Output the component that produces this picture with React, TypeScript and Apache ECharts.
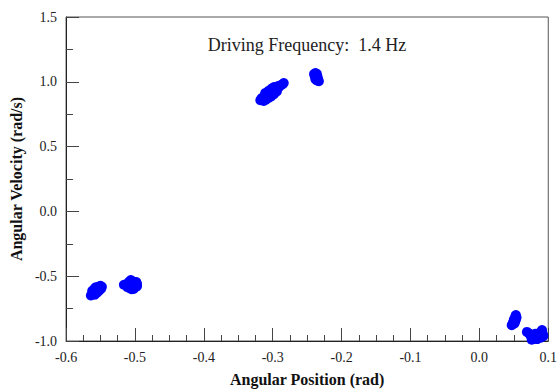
import React, { useEffect, useRef } from "react";
import * as echarts from "echarts";

const xTickValues = [-0.6, -0.5, -0.4, -0.3, -0.2, -0.1, 0.0, 0.1];
const yTickValues = [-1.0, -0.5, 0.0, 0.5, 1.0, 1.5];

const clusterA = [
  [-0.564, -0.648], [-0.562, -0.635], [-0.561, -0.628], [-0.559, -0.62], [-0.558, -0.612],
  [-0.557, -0.605], [-0.556, -0.598], [-0.554, -0.59], [-0.553, -0.582], [-0.551, -0.578],
  [-0.55, -0.574], [-0.556, -0.615], [-0.553, -0.6], [-0.56, -0.64], [-0.552, -0.588],
  [-0.558, -0.642], [-0.555, -0.627], [-0.552, -0.612], [-0.549, -0.596], [-0.548, -0.582],
  [-0.562, -0.612], [-0.559, -0.598], [-0.557, -0.585],
];
const clusterB = [
  [-0.516, -0.566], [-0.513, -0.568], [-0.51, -0.575], [-0.508, -0.59], [-0.505, -0.6],
  [-0.502, -0.598], [-0.5, -0.585], [-0.499, -0.57], [-0.5, -0.555], [-0.503, -0.54],
  [-0.506, -0.53], [-0.509, -0.545], [-0.507, -0.56], [-0.504, -0.575], [-0.501, -0.562],
  [-0.511, -0.585], [-0.503, -0.588], [-0.497, -0.56], [-0.497, -0.578], [-0.498, -0.545],
];
const clusterC = [
  [-0.318, 0.858], [-0.316, 0.875], [-0.314, 0.868], [-0.312, 0.89], [-0.31, 0.882],
  [-0.308, 0.905], [-0.306, 0.898], [-0.305, 0.92], [-0.303, 0.91], [-0.301, 0.932],
  [-0.299, 0.925], [-0.297, 0.945], [-0.298, 0.96], [-0.295, 0.95], [-0.293, 0.965],
  [-0.291, 0.958], [-0.289, 0.972], [-0.286, 0.98], [-0.284, 0.99], [-0.302, 0.945],
  [-0.309, 0.915], [-0.313, 0.852], [-0.31, 0.862], [-0.306, 0.875], [-0.302, 0.888],
  [-0.298, 0.905], [-0.294, 0.925], [-0.311, 0.912], [-0.306, 0.93], [-0.3, 0.952],
];
const clusterD = [
  [-0.24, 1.06], [-0.238, 1.068], [-0.236, 1.062], [-0.239, 1.045], [-0.237, 1.035],
  [-0.235, 1.04], [-0.238, 1.02], [-0.236, 1.01], [-0.234, 1.015], [-0.235, 1.028],
  [-0.233, 1.005],
];
const clusterE = [
  [0.053, -0.8], [0.052, -0.812], [0.054, -0.818], [0.051, -0.828], [0.053, -0.835],
  [0.05, -0.845], [0.052, -0.85], [0.049, -0.858], [0.051, -0.865], [0.048, -0.87],
  [0.047, -0.878], [0.05, -0.838],
];
const clusterF = [
  [0.069, -0.93], [0.072, -0.94], [0.074, -0.955], [0.076, -0.975], [0.076, -0.99],
  [0.079, -0.965], [0.081, -0.945], [0.083, -0.96], [0.085, -0.975], [0.086, -0.94],
  [0.088, -0.955], [0.09, -0.93], [0.091, -0.915], [0.092, -0.945], [0.093, -0.962],
  [0.078, -0.985], [0.084, -0.985], [0.089, -0.975],
];

const annotation = "Driving Frequency:  1.4 Hz";
const xName = "Angular Position (rad)";
const yName = "Angular Velocity (rad/s)";

const FONT = "'Liberation Serif', 'Times New Roman', serif";

export default function App() {
  const ref = useRef<HTMLDivElement>(null);
  useEffect(() => {
    if (!ref.current) return;
    const chart = echarts.init(ref.current, undefined, { renderer: "svg" });
    const allPoints = [...clusterA, ...clusterB, ...clusterC, ...clusterD, ...clusterE, ...clusterF];
    chart.setOption({
      animation: false,
      backgroundColor: "#ffffff",
      grid: {
        left: 60,
        top: 17,
        right: 8,
        bottom: 47,
        show: true,
        borderColor: "#555",
        borderWidth: 1,
        backgroundColor: "transparent",
      },
      xAxis: {
        type: "value",
        min: xTickValues[0],
        max: xTickValues[xTickValues.length - 1],
        interval: 0.1,
        name: xName,
        nameLocation: "middle",
        nameGap: 30,
        nameTextStyle: { fontFamily: FONT, fontWeight: "bold", fontSize: 16, color: "#111" },
        axisLine: { show: true, onZero: false, lineStyle: { color: "#222", width: 1 } },
        axisTick: { show: true, inside: true, length: 13, lineStyle: { color: "#444" } },
        minorTick: { show: true, splitNumber: 4, length: 6, lineStyle: { color: "#444" } },
        splitLine: { show: false },
        axisLabel: {
          fontFamily: FONT,
          fontSize: 14,
          color: "#222",
          margin: 9,
          formatter: (v: number) => v.toFixed(1),
        },
      },
      yAxis: {
        type: "value",
        min: yTickValues[0],
        max: yTickValues[yTickValues.length - 1],
        interval: 0.5,
        name: yName,
        nameLocation: "middle",
        nameGap: 40,
        nameTextStyle: { fontFamily: FONT, fontWeight: "bold", fontSize: 16, color: "#111" },
        axisLine: { show: true, onZero: false, lineStyle: { color: "#222", width: 1 } },
        axisTick: { show: true, inside: true, length: 13, lineStyle: { color: "#444" } },
        minorTick: { show: true, splitNumber: 2, length: 7, lineStyle: { color: "#444" } },
        splitLine: { show: false },
        axisLabel: {
          fontFamily: FONT,
          fontSize: 14,
          color: "#222",
          margin: 9,
          formatter: (v: number) => v.toFixed(1),
        },
      },
      graphic: [
        {
          type: "text",
          x: 307,
          y: 45,
          style: {
            text: annotation,
            fontFamily: FONT,
            fontSize: 18,
            fill: "#222",
            align: "center",
            verticalAlign: "middle",
          },
        },
      ],
      series: [
        {
          type: "scatter",
          data: allPoints,
          symbol: "circle",
          symbolSize: 10,
          clip: false,
          itemStyle: { color: "#0000ff", opacity: 1 },
        },
      ],
    });
    return () => chart.dispose();
  }, []);
  return (
    <div
      ref={ref}
      style={{ position: "fixed", left: 0, top: 0, width: 560, height: 392 }}
    />
  );
}
